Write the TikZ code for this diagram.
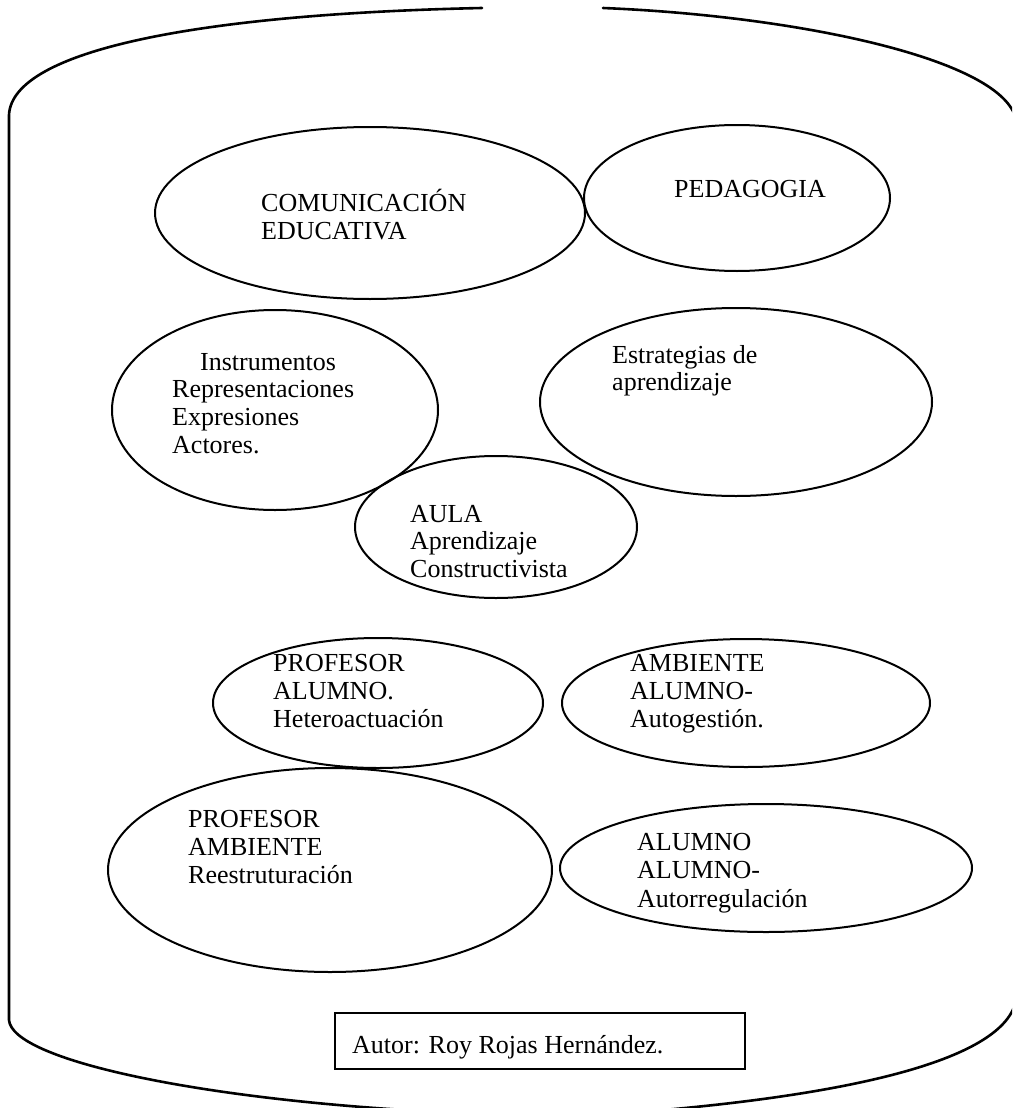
\documentclass[tikz,border=0pt]{standalone}
\usepackage{fontspec}
\setmainfont{Liberation Serif}
\usetikzlibrary{shapes.geometric}
\begin{document}
\begin{tikzpicture}[x=1pt,y=-1pt,
  oval/.style={draw, ellipse, line width=2pt, inner sep=0pt},
  txt/.style={anchor=base west, inner sep=0pt, font=\fontsize{26}{28.5}\selectfont},
  frameline/.style={line width=2.6pt, line cap=round}]
\useasboundingbox (0,0) rectangle (1012,1108);
\clip (0,0) rectangle (1012,1108);
% outer frame
\draw[frameline] (482,8) .. controls (200,14) and (12,50) .. (9,115) -- (9,1020)
   .. controls (12,1060) and (200,1100) .. (440,1112);
\draw[frameline] (603,8) .. controls (800,16) and (1005,60) .. (1016,120) -- (1016,1000)
   .. controls (1005,1060) and (850,1095) .. (640,1112);
% ellipses
\node[oval, minimum width=430pt, minimum height=172pt] (com) at (370,213) {};
\node[oval, minimum width=306pt, minimum height=146pt] (ped) at (737,198) {};
\node[oval, minimum width=326pt, minimum height=200pt] (ins) at (275,410) {};
\node[oval, minimum width=392pt, minimum height=188pt] (est) at (736,402) {};
\node[oval, minimum width=282pt, minimum height=142pt] (aula) at (496,527) {};
\node[oval, minimum width=330pt, minimum height=130pt] (het) at (378,703) {};
\node[oval, minimum width=368pt, minimum height=128pt] (amb) at (746,703) {};
\node[oval, minimum width=444pt, minimum height=204pt] (pamb) at (330,870) {};
\node[oval, minimum width=412pt, minimum height=128pt] (alu) at (766,868) {};
% texts
\node[txt] (tcom) at (261,211) {\vtop{\hbox{COMUNICACIÓN}\hbox{EDUCATIVA}}};
\node[txt] (tped) at (674,197) {PEDAGOGIA};
\node[txt, font=\fontsize{26}{27.7}\selectfont] (tins) at (172,370)
  {\vtop{\hbox{\hspace*{28pt}Instrumentos}\hbox{Representaciones}\hbox{Expresiones}\hbox{Actores.}}};
\node[txt, font=\fontsize{26}{27}\selectfont] (test) at (612,363) {\vtop{\hbox{Estrategias de}\hbox{aprendizaje}}};
\node[txt, font=\fontsize{26}{27.5}\selectfont] (taula) at (410,522) {\vtop{\hbox{AULA}\hbox{Aprendizaje}\hbox{Constructivista}}};
\node[txt, font=\fontsize{26}{28}\selectfont] (thet) at (273,671) {\vtop{\hbox{PROFESOR}\hbox{ALUMNO.}\hbox{Heteroactuación}}};
\node[txt, font=\fontsize{26}{28}\selectfont] (tamb) at (630,671) {\vtop{\hbox{AMBIENTE}\hbox{ALUMNO-}\hbox{Autogestión.}}};
\node[txt, font=\fontsize{26}{28}\selectfont] (tpamb) at (188,827) {\vtop{\hbox{PROFESOR}\hbox{AMBIENTE}\hbox{Reestruturación}}};
\node[txt, font=\fontsize{26}{28.5}\selectfont] (talu) at (637,850) {\vtop{\hbox{ALUMNO}\hbox{ALUMNO-}\hbox{Autorregulación}}};
% author box
\node[draw, line width=1.3pt, minimum width=410pt, minimum height=56pt, inner sep=0pt] (box) at (540,1041) {};
\node[txt] (tbox) at (352,1053) {Autor: Roy Rojas Hernández.};
\end{tikzpicture}
\end{document}
